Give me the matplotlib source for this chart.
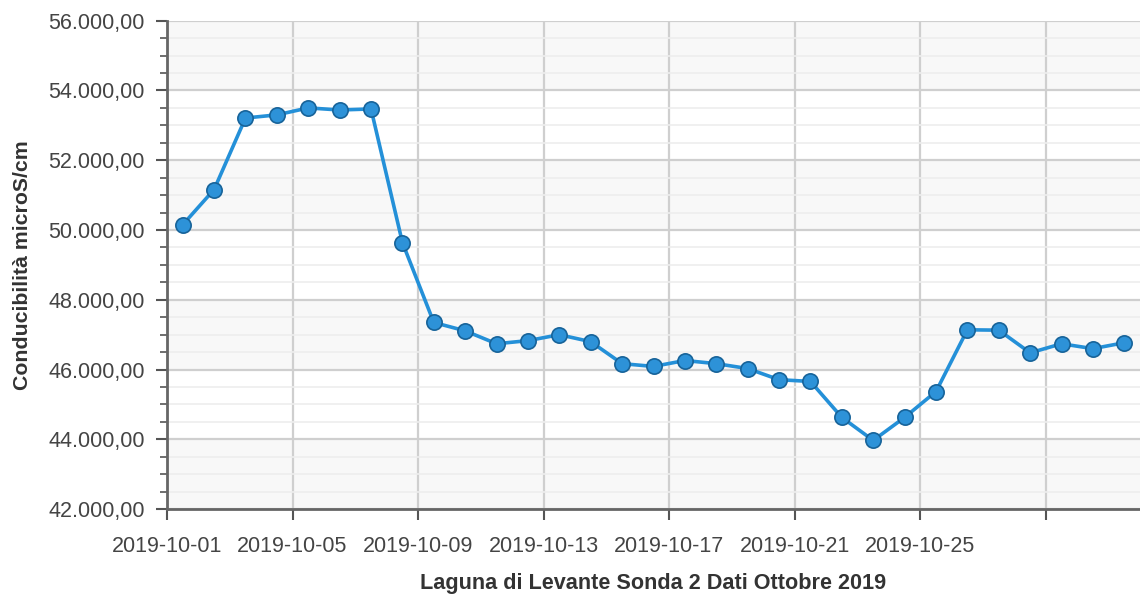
import numpy as np
import pandas as pd
import matplotlib.pyplot as plt
import matplotlib.dates as mdates
from matplotlib.ticker import MultipleLocator, FuncFormatter

# daily values, October 2019 (one point per day, plotted at noon)
days = pd.date_range("2019-10-01 12:00", periods=31, freq="D")
conductivity = [50150, 51160, 53210, 53300, 53500, 53440, 53470, 49640, 47350, 47110,
                46740, 46830, 47000, 46800, 46170, 46090, 46260, 46170, 46030, 45710,
                45660, 44630, 43970, 44630, 45370, 47140, 47130, 46480, 46740, 46600,
                46770]

y_min, y_max = 42000, 56000
x_start, x_end = pd.Timestamp("2019-10-01"), pd.Timestamp("2019-11-01")
tick_dates = pd.date_range("2019-10-01", periods=8, freq="4D")

font = "Liberation Sans"
plt.rcParams["font.family"] = [font, "DejaVu Sans"]

fig = plt.figure(figsize=(11.4, 5.99), dpi=100)
ax = fig.add_axes([0.1465, 0.150, 0.8535, 0.8155])

# alternating bands between major gridlines
for i, lo in enumerate(range(y_min, y_max, 2000)):
    if i % 2 == 0:
        ax.axhspan(lo, lo + 2000, color="#f8f8f8", zorder=0, lw=0)

ax.set_ylim(y_min, y_max)
ax.set_xlim(x_start, x_end)

ax.yaxis.set_major_locator(MultipleLocator(2000))
ax.yaxis.set_minor_locator(MultipleLocator(500))
ax.yaxis.set_major_formatter(FuncFormatter(
    lambda v, p: f"{v:,.2f}".replace(",", "X").replace(".", ",").replace("X", ".")))

ax.set_xticks(tick_dates)
ax.set_xticklabels([d.strftime("%Y-%m-%d") if d < pd.Timestamp("2019-10-29") else ""
                    for d in tick_dates])

ax.grid(which="major", axis="both", color="#cfcfcf", lw=1.6, zorder=1)
ax.grid(which="minor", axis="y", color="#eeeeee", lw=1.2, zorder=1)
ax.set_axisbelow(True)

for s in ["top", "right"]:
    ax.spines[s].set_visible(False)
for s in ["left", "bottom"]:
    ax.spines[s].set_color("#666666")
    ax.spines[s].set_linewidth(2)

ax.tick_params(axis="y", which="major", length=8, width=1.5, color="#555555",
               labelsize=15.5, labelcolor="#444444", pad=8)
ax.tick_params(axis="y", which="minor", length=5, width=1.2, color="#555555")
ax.tick_params(axis="x", which="major", length=8, width=1.5, color="#555555",
               labelsize=15.5, labelcolor="#444444", pad=11)

ax.plot(days, conductivity, color="#2490d8", lw=2.6, marker="o", markersize=11,
        markerfacecolor="#2d92d8", markeredgecolor="#176399", markeredgewidth=1.2,
        zorder=3, clip_on=False)

ax.set_ylabel("Conducibilità microS/cm", fontsize=15.3, fontweight="bold",
              color="#333333", labelpad=12)
ax.set_xlabel("Laguna di Levante Sonda 2 Dati Ottobre 2019", fontsize=15.6,
              fontweight="bold", color="#333333", labelpad=12)

fig.savefig("out.png", dpi=100)
